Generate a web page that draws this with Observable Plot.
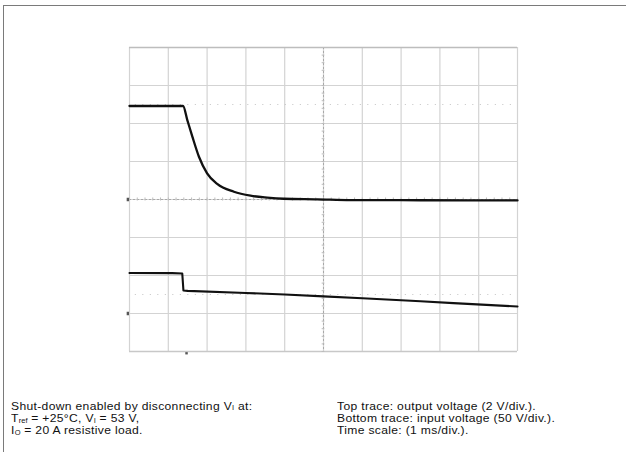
<!DOCTYPE html>
<html><head><meta charset="utf-8">
<script src="https://cdn.jsdelivr.net/npm/d3@7"></script>
<script src="https://cdn.jsdelivr.net/npm/@observablehq/plot@0.6"></script>
<style>
html,body{margin:0;padding:0;background:#fff;width:626px;height:455px;overflow:hidden;}
#frame{position:absolute;left:3px;top:5px;width:623px;height:447px;border-top:1.5px solid #7a7a7a;border-left:1.5px solid #7a7a7a;box-sizing:border-box;}
#chart{position:absolute;left:0;top:0;}
.notes{position:absolute;top:399.5px;font-family:"Liberation Sans",Arial,sans-serif;font-size:11px;letter-spacing:0.3px;line-height:12.4px;color:#111;white-space:nowrap;transform:scaleX(1.1);transform-origin:0 0;}
.notes sub{font-size:0.62em;vertical-align:baseline;position:relative;top:0.1em;line-height:0;letter-spacing:0;}
</style>
</head><body>
<div id="frame"></div>
<div id="chart"></div>
<div class="notes" style="left:11px">Shut-down enabled by disconnecting V<sub>I</sub> at:<br>T<sub>ref</sub> = +25°C, V<sub>I</sub> = 53 V,<br>I<sub>O</sub> = 20 A resistive load.</div>
<div class="notes" style="left:337px">Top trace: output voltage (2 V/div.).<br>Bottom trace: input voltage (50 V/div.).<br>Time scale: (1 ms/div.).</div>
<script>
// Grid divisions (oscilloscope graticule)
const xDivs = [0,1,2,3,4,5,6,7,8,9,10];
const yDivs = [-4,-3,-2,-1,0,1,2,3,4];

// Top trace: output voltage (V), 2 V/div, ground at 0 div
const topTimeMs = [0, 1.38, 1.49, 1.62, 1.79, 2.00, 2.26, 2.69, 3.12, 3.55, 3.98, 4.84, 5.70, 7.50, 10];
const topVolts  = [4.92, 4.92, 4.18, 3.31, 2.25, 1.38, 0.82, 0.41, 0.20, 0.10, 0.04, 0.01, -0.03, -0.04, -0.05];

// Bottom trace: input voltage (V), 50 V/div, ground at -3 div
const botTimeMs = [0, 1.10, 1.36, 1.39, 1.50, 3.00, 4.00, 5.00, 6.00, 7.50, 8.35, 9.20, 10];
const botVolts  = [53.2, 53.1, 52.6, 30.2, 29.8, 27.0, 25.0, 22.5, 20.0, 16.2, 13.6, 11.3, 9.2];

const topVPerDiv = 2, topGround = 0;
const botVPerDiv = 50, botGround = -3;
const triggerMs = 1.47;

const topTrace = topTimeMs.map((t, i) => ({t, v: topVolts[i]}));
const botTrace = botTimeMs.map((t, i) => ({t, v: botVolts[i]}));
const minorX = d3.range(0, 10.001, 0.2);
const minorY = d3.range(-4, 4.001, 0.2);

const grid = "#d3d3d3";
const chart = Plot.plot({
  width: 626, height: 360,
  marginLeft: 129, marginRight: 109, marginTop: 47, marginBottom: 9,
  x: {domain: [0, 10], axis: null},
  y: {domain: [-4, 4], axis: null},
  marks: [
    Plot.ruleX(xDivs, {stroke: grid, strokeWidth: 1.2}),
    Plot.ruleY(yDivs, {stroke: grid, strokeWidth: 1.2}),
    Plot.ruleY([4], {stroke: "#bdbdbd", strokeWidth: 1.6}),
    Plot.ruleY([-4], {stroke: "#c8c8c8", strokeWidth: 1.6}),
    Plot.ruleX([5], {stroke: "#a8a8a8", strokeWidth: 1, strokeDasharray: "2,2"}),
    Plot.ruleY([0], {stroke: "#a8a8a8", strokeWidth: 1, strokeDasharray: "2,2"}),
    Plot.ruleX(minorX, {x: d => d, y1: -0.04, y2: 0.04, stroke: "#bdbdbd"}),
    Plot.ruleY(minorY, {y: d => d, x1: 4.965, x2: 5.035, stroke: "#bdbdbd"}),
    Plot.ruleY([2.5, -2.5], {x1: 0.15, x2: 9.95, stroke: "#c4c4c4", strokeWidth: 1.2, strokeDasharray: "1,6.5"}),
    Plot.line(topTrace, {x: "t", y: d => d.v / topVPerDiv + topGround, stroke: "#111", strokeWidth: 2.3, curve: "monotone-x"}),
    Plot.line(botTrace, {x: "t", y: d => d.v / botVPerDiv + botGround, stroke: "#111", strokeWidth: 2.1, curve: "linear"}),
    Plot.ruleY([topGround, botGround], {x1: -0.06, x2: 0, stroke: "#555", strokeWidth: 3.5}),
    Plot.ruleX([triggerMs], {y1: -4.03, y2: -4.09, stroke: "#555", strokeWidth: 2.5})
  ]
});
document.getElementById("chart").appendChild(chart);
</script>
</body></html>
